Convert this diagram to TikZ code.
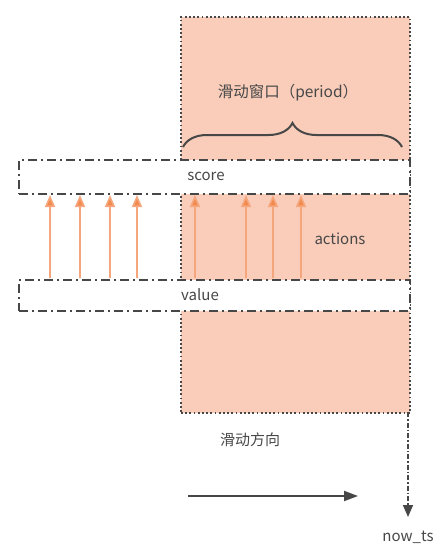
\documentclass[tikz,border=0pt]{standalone}
\usepackage{fontspec}
\setmainfont{Noto Sans CJK SC}
\usetikzlibrary{arrows.meta,decorations.pathreplacing}
\definecolor{pinkfill}{HTML}{F9CDBA}
\definecolor{arrorange}{HTML}{F5A67C}
\definecolor{headorange}{HTML}{F28A4E}
\definecolor{ink}{HTML}{474747}
\tikzset{
  band/.style={draw=ink, line width=2pt, dash pattern=on 9pt off 4pt on 2pt off 4pt, fill=white},
  win/.style={draw=ink, line width=1.8pt, dash pattern=on 1.8pt off 2.4pt, fill=pinkfill},
  act/.style={draw=arrorange, line width=1.6pt, -{Triangle[length=12pt,width=10pt,fill=headorange]}},
  lbl/.style={text=ink, font=\fontsize{15}{18}\selectfont, inner sep=0pt},
}
\begin{document}
\begin{tikzpicture}[x=1pt,y=-1pt]
\useasboundingbox (0,0) rectangle (442,555);
\node[win, minimum width=229pt, minimum height=396pt, anchor=north west, inner sep=0pt] (window) at (180,16) {};
\node[band, minimum width=391pt, minimum height=34pt, anchor=north west, inner sep=0pt] (score) at (18,159) {};
\node[band, minimum width=391pt, minimum height=31pt, anchor=north west, inner sep=0pt] (value) at (18,279) {};
\node[lbl] (scoret) at (206,176) {score};
\node[lbl] (valuet) at (200,295) {value};
\node[lbl] (actions) at (340,239) {actions};
\node[lbl, font=\fontsize{15.5}{18}\selectfont] (period) at (288,93) {滑动窗口（period）};
\coordinate (bl) at (183,147);
\coordinate (br) at (402,147);
\draw[ink, line width=2pt, decorate, decoration={brace, amplitude=24pt}] (bl) -- (br);
\foreach \x/\n in {50/a1,80/a2,110/a3,137/a4,195/a5,246/a6,273/a7,301/a8}{
  \coordinate (\n s) at (\x,278);
  \coordinate (\n e) at (\x,195);
  \draw[act] (\n s) -- (\n e);
}
\node[lbl] (dir) at (250,440) {滑动方向};
\coordinate (ds) at (188,496);
\coordinate (de) at (358,496);
\draw[ink, line width=2pt, -{Triangle[length=14pt,width=10pt]}] (ds) -- (de);
\coordinate (ns) at (408,412);
\coordinate (ne) at (408,517);
\node[lbl] (now) at (408,537) {now\_ts};
\draw[ink, line width=1.6pt, dash pattern=on 5pt off 2pt on 1.5pt off 2pt, -{Triangle[length=12pt,width=10pt]}] (ns) -- (ne);
\end{tikzpicture}
\end{document}
